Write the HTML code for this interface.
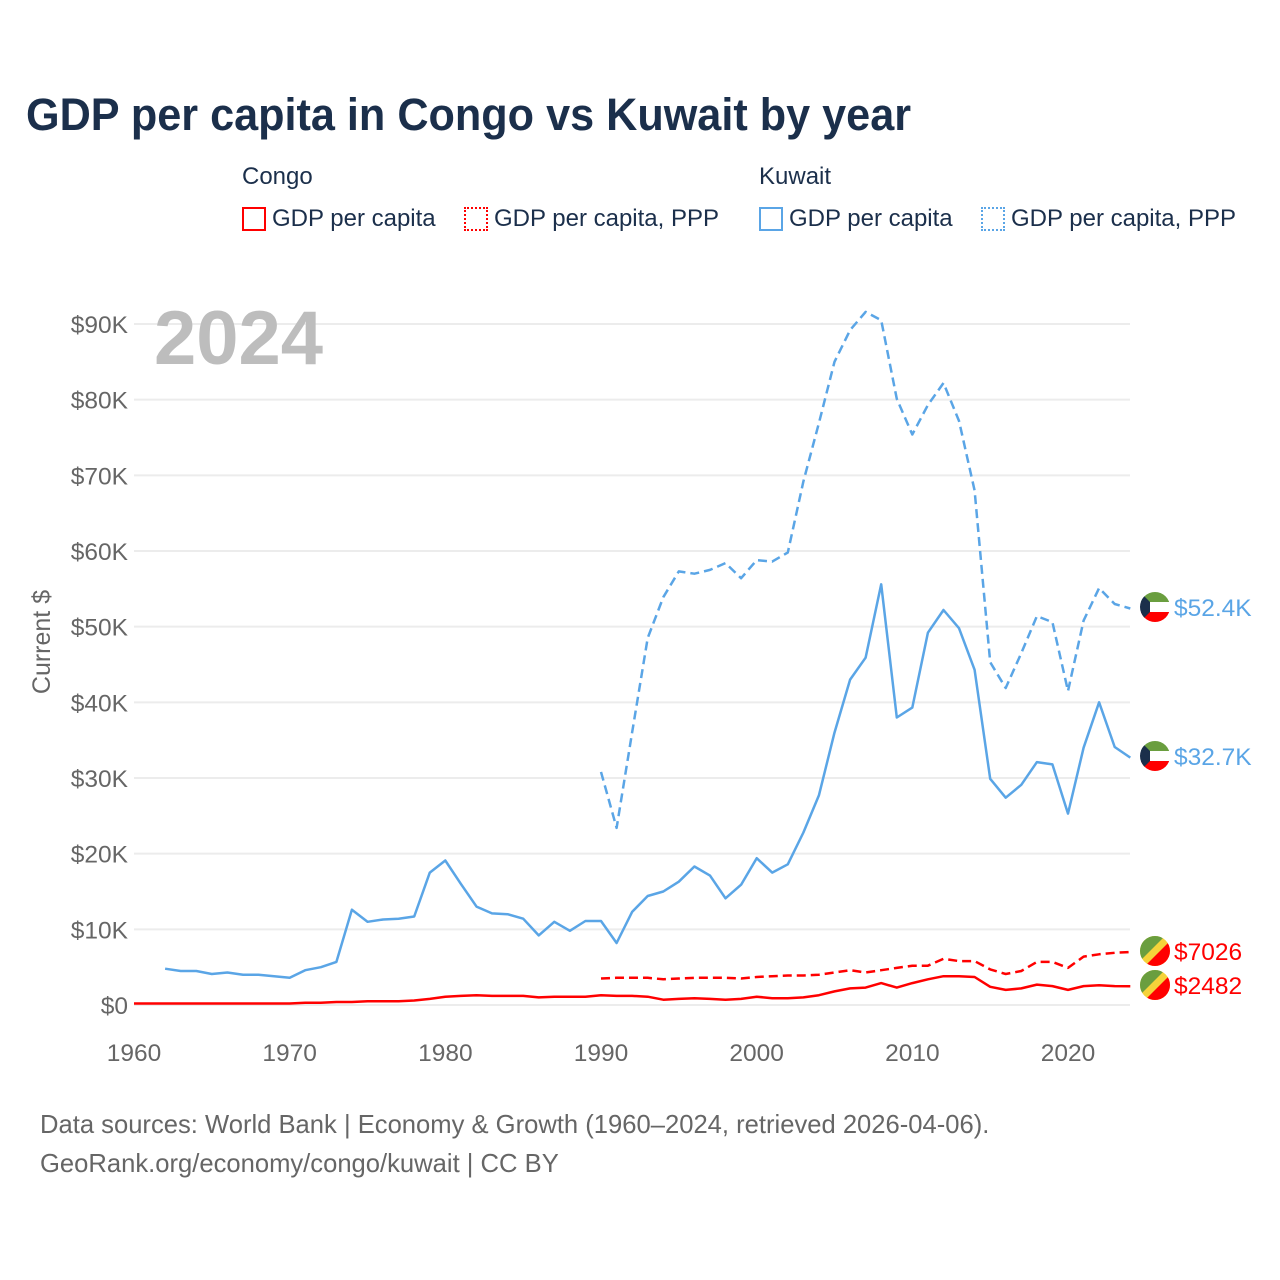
<!DOCTYPE html>
<html><head><meta charset="utf-8"><style>
body{margin:0;background:#fff;font-family:"Liberation Sans",sans-serif;}
#wrap{position:relative;width:1280px;height:1280px;overflow:hidden;}
.t{position:absolute;white-space:nowrap;}
</style></head><body>
<div id="wrap">
<div class="t" style="left:26px;top:89px;font-size:45px;font-weight:bold;color:#1b2f4b;transform:scaleX(0.96);transform-origin:0 0;">GDP per capita in Congo vs Kuwait by year</div>
<div class="t" style="left:242px;top:163px;font-size:24px;color:#1b2f4b;">Congo</div>
<div class="t" style="left:759px;top:163px;font-size:24px;color:#1b2f4b;">Kuwait</div>
<div class="t" style="left:242px;top:205px;font-size:24px;color:#1b2f4b;"><span style="display:inline-block;width:24px;height:24px;border:2px solid #f00;vertical-align:-5px;margin-right:6px;box-sizing:border-box;"></span>GDP per capita</div>
<div class="t" style="left:464px;top:205px;font-size:24px;color:#1b2f4b;"><span style="display:inline-block;width:24px;height:24px;border:2px dotted #f00;vertical-align:-5px;margin-right:6px;box-sizing:border-box;"></span>GDP per capita, PPP</div>
<div class="t" style="left:759px;top:205px;font-size:24px;color:#1b2f4b;"><span style="display:inline-block;width:24px;height:24px;border:2px solid #5aa5e6;vertical-align:-5px;margin-right:6px;box-sizing:border-box;"></span>GDP per capita</div>
<div class="t" style="left:981px;top:205px;font-size:24px;color:#1b2f4b;"><span style="display:inline-block;width:24px;height:24px;border:2px dotted #5aa5e6;vertical-align:-5px;margin-right:6px;box-sizing:border-box;"></span>GDP per capita, PPP</div>
<div class="t" style="left:40px;top:1106px;font-size:25.6px;color:#666;line-height:39px;">Data sources: World Bank | Economy &amp; Growth (1960–2024, retrieved 2026-04-06).<br>GeoRank.org/economy/congo/kuwait | CC BY</div>
<svg id="chart" width="1280" height="1280" style="position:absolute;left:0;top:0"></svg>
</div>
<script>
const years=[];for(let y=1960;y<=2024;y++)years.push(y);
const yTicks=[0,10000,20000,30000,40000,50000,60000,70000,80000,90000];
const yTickLabels=["$0","$10K","$20K","$30K","$40K","$50K","$60K","$70K","$80K","$90K"];
const xTicks=[1960,1970,1980,1990,2000,2010,2020];
const kuwaitGdpStart=1962;
const kuwaitGdp=[4.8,4.5,4.5,4.1,4.3,4.0,4.0,3.8,3.6,4.6,5.0,5.7,12.6,11.0,11.3,11.4,11.7,17.5,19.1,16.0,13.0,12.1,12.0,11.4,9.2,11.0,9.8,11.1,11.1,8.2,12.3,14.4,15.0,16.3,18.3,17.1,14.1,15.9,19.4,17.5,18.6,22.8,27.7,36.0,43.0,45.9,55.6,38.0,39.3,49.2,52.2,49.8,44.3,29.9,27.4,29.1,32.1,31.8,25.3,34.0,40.0,34.1,32.7];
const kuwaitPppStart=1990;
const kuwaitPpp=[30.8,23.4,36.0,48.5,53.9,57.3,57.0,57.5,58.4,56.4,58.8,58.6,59.8,69.2,76.9,85.0,89.2,91.6,90.5,80.1,75.4,79.3,82.2,77.2,68.0,45.3,41.9,46.5,51.4,50.6,41.5,50.8,55.1,53.0,52.4];
const congoGdpStart=1960;
const congoGdp=[0.2,0.2,0.2,0.2,0.2,0.2,0.2,0.2,0.2,0.2,0.2,0.3,0.3,0.4,0.4,0.5,0.5,0.5,0.6,0.8,1.1,1.2,1.3,1.2,1.2,1.2,1.0,1.1,1.1,1.1,1.3,1.2,1.2,1.1,0.7,0.8,0.9,0.8,0.7,0.8,1.1,0.9,0.9,1.0,1.3,1.8,2.2,2.3,2.9,2.3,2.9,3.4,3.8,3.8,3.7,2.4,2.0,2.2,2.7,2.5,2.0,2.5,2.6,2.5,2.48];
const congoPppStart=1990;
const congoPpp=[3.5,3.6,3.6,3.6,3.4,3.5,3.6,3.6,3.6,3.5,3.7,3.8,3.9,3.9,4.0,4.3,4.6,4.3,4.6,4.9,5.2,5.2,6.1,5.8,5.8,4.7,4.1,4.5,5.7,5.7,4.9,6.4,6.7,6.9,7.0];
const endLabels=["$52.4K","$32.7K","$7026","$2482"];

const NS="http://www.w3.org/2000/svg";
const svg=document.getElementById('chart');
const X0=134,X1=1068,Y0=1005,Y90=324;
const xs=y=>X0+(y-1960)*(X1-X0)/60;
const ys=v=>Y0-v*(Y0-Y90)/90000;
function mk(t,a,p){const e=document.createElementNS(NS,t);for(const k in a)e.setAttribute(k,a[k]);(p||svg).appendChild(e);return e;}
yTicks.forEach((v,i)=>{
  const g=mk('line',{x1:134,x2:1130,y1:ys(v),y2:ys(v),stroke:'#ececec','stroke-width':2});
  
  
  const t=mk('text',{x:128,y:ys(v)+9,'text-anchor':'end','font-size':24.5,fill:'#666','font-family':'Liberation Sans, sans-serif'});
  t.textContent=yTickLabels[i];
  
  
});
xTicks.forEach(y=>{
  const t=mk('text',{x:xs(y),y:1061,'text-anchor':'middle','font-size':24.5,fill:'#666','font-family':'Liberation Sans, sans-serif'});
  t.textContent=String(y);
  
  
});
const yt=mk('text',{x:0,y:0,transform:'translate(50,642) rotate(-90)','text-anchor':'middle','font-size':25,fill:'#666','font-family':'Liberation Sans, sans-serif'});
yt.textContent='Current $';


const yr=mk('text',{x:154,y:364,'font-size':76,'font-weight':'bold',fill:'#bdbdbd','font-family':'Liberation Sans, sans-serif'});
yr.textContent='2024';


function line(arr,start,color,dash,name){
  const pts=arr.map((v,i)=>xs(start+i).toFixed(1)+','+ys(v*1000).toFixed(1)).join(' ');
  const p=mk('polyline',{points:pts,fill:'none',stroke:color,'stroke-width':2.5,'stroke-linejoin':'round'});
  if(dash)p.setAttribute('stroke-dasharray','9,5');
  
  
  return ys(arr[arr.length-1]*1000);
}
line(kuwaitPpp,kuwaitPppStart,'#5aa5e6',true,'kuwait-ppp-line');
line(kuwaitGdp,kuwaitGdpStart,'#5aa5e6',false,'kuwait-gdp-line');
line(congoPpp,congoPppStart,'#f00',true,'congo-ppp-line');
line(congoGdp,congoGdpStart,'#f00',false,'congo-gdp-line');
function flag(cy,kuwait,label,color,name){
  const g=mk('g',{});
  
  
  const id='c'+Math.round(cy);
  const cp=mk('clipPath',{id:id},g);mk('circle',{cx:1155,cy:cy,r:15},cp);
  const f=mk('g',{'clip-path':'url(#'+id+')'},g);
  if(kuwait){
    mk('rect',{x:1140,y:cy-15,width:30,height:10,fill:'#6a9e3f'},f);
    mk('rect',{x:1140,y:cy-5,width:30,height:10,fill:'#fff'},f);
    mk('rect',{x:1140,y:cy+5,width:30,height:10,fill:'#f00'},f);
    mk('polygon',{points:`1140,${cy-15} 1150,${cy-5} 1150,${cy+5} 1140,${cy+15}`,fill:'#1b2f4b'},f);
  }else{
    mk('rect',{x:1140,y:cy-15,width:30,height:30,fill:'#f5d33a'},f);
    mk('polygon',{points:`1140,${cy-15} 1165,${cy-15} 1140,${cy+10}`,fill:'#6a9e3f'},f);
    mk('polygon',{points:`1170,${cy-10} 1170,${cy+15} 1145,${cy+15}`,fill:'#f00'},f);
  }
  const t=mk('text',{x:1174,y:cy+9,'font-size':24.5,fill:color,'font-family':'Liberation Sans, sans-serif'},g);
  t.textContent=label;
}
flag(607,true,endLabels[0],'#5aa5e6','end-label-kuwait-ppp');
flag(756,true,endLabels[1],'#5aa5e6','end-label-kuwait-gdp');
flag(951,false,endLabels[2],'#f00','end-label-congo-ppp');
flag(985,false,endLabels[3],'#f00','end-label-congo-gdp');
</script>
</body></html>
